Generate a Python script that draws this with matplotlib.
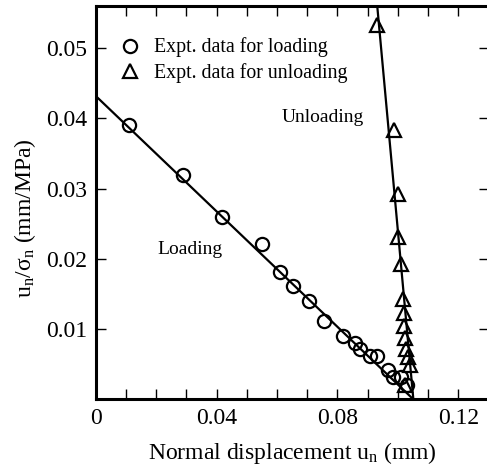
import matplotlib
matplotlib.use("Agg")
import matplotlib.pyplot as plt
from matplotlib.ticker import MultipleLocator

plt.rcParams['font.family'] = ['Liberation Serif', 'DejaVu Serif']
plt.rcParams['mathtext.fontset'] = 'custom'
plt.rcParams['mathtext.rm'] = 'Liberation Serif'
plt.rcParams['mathtext.it'] = 'Liberation Serif:italic'

# experimental points, loading branch (mm, mm/MPa)
load_u = [0.0111, 0.0290, 0.0419, 0.0549, 0.0610, 0.0654, 0.0707, 0.0757, 0.0818,
          0.0858, 0.0875, 0.0908, 0.0931, 0.0967, 0.0985, 0.1009, 0.1029]
load_r = [0.0390, 0.0320, 0.0260, 0.0221, 0.0181, 0.0161, 0.0140, 0.0111, 0.0090,
          0.0080, 0.0071, 0.0061, 0.0061, 0.0042, 0.0032, 0.0032, 0.0021]

# experimental points, unloading branch
unload_u = [0.0931, 0.0988, 0.1001, 0.1001, 0.1009, 0.1018, 0.1019, 0.1021, 0.1022,
            0.1027, 0.1033, 0.1040, 0.1025]
unload_r = [0.0533, 0.0383, 0.0292, 0.0231, 0.0193, 0.0143, 0.0123, 0.0105, 0.0087,
            0.0072, 0.0060, 0.0049, 0.0020]

# straight-line fits through each branch
load_fit_u = [0.0, 0.1051]
load_fit_r = [0.0432, 0.0]
unload_fit_u = [0.1051, 0.0923]
unload_fit_r = [0.0, 0.060]

fig = plt.figure(figsize=(4.87, 4.66), dpi=100)
ax = fig.add_axes([0.1965, 0.1431, 0.8068, 0.844])

ax.plot(load_fit_u, load_fit_r, color='black', lw=1.6)
ax.plot(unload_fit_u, unload_fit_r, color='black', lw=1.6)
ax.plot(load_u, load_r, 'o', ms=9.5, mfc='none', mec='black', mew=1.6,
        label='Expt. data for loading')
ax.plot(unload_u, unload_r, '^', ms=9.5, mfc='none', mec='black', mew=1.6,
        label='Expt. data for unloading')

ax.text(0.0312, 0.0213, 'Loading', fontsize=14, ha='center', va='center')
ax.text(0.0752, 0.0401, 'Unloading', fontsize=14, ha='center', va='center')

ax.set_xlim(0, 0.13)
ax.set_ylim(0, 0.056)
ax.xaxis.set_minor_locator(MultipleLocator(0.01))
ax.set_xticks([0, 0.04, 0.08, 0.12])
ax.set_xticklabels(['0', '0.04', '0.08', '0.12'])
ax.set_yticks([0.01, 0.02, 0.03, 0.04, 0.05])
ax.set_yticklabels(['0.01', '0.02', '0.03', '0.04', '0.05'])

for s in ax.spines.values():
    s.set_linewidth(2.2)
ax.tick_params(which='both', direction='in', top=True, right=True,
               length=7, width=1.0, labelsize=17, pad=6)

ax.set_xlabel('Normal displacement u$_\\mathregular{n}$ (mm)', fontsize=17, labelpad=8)
ax.set_ylabel('u$_\\mathregular{n}$/σ$_\\mathregular{n}$ (mm/MPa)', fontsize=17, labelpad=8)
ax.yaxis.set_label_coords(-0.147, 0.46)

ax.legend(loc='upper left', bbox_to_anchor=(0.043, 0.94), frameon=False, fontsize=14.3,
          handlelength=1.0, handletextpad=0.7, labelspacing=0.3, borderaxespad=0)

fig.savefig('out.png', dpi=100)
